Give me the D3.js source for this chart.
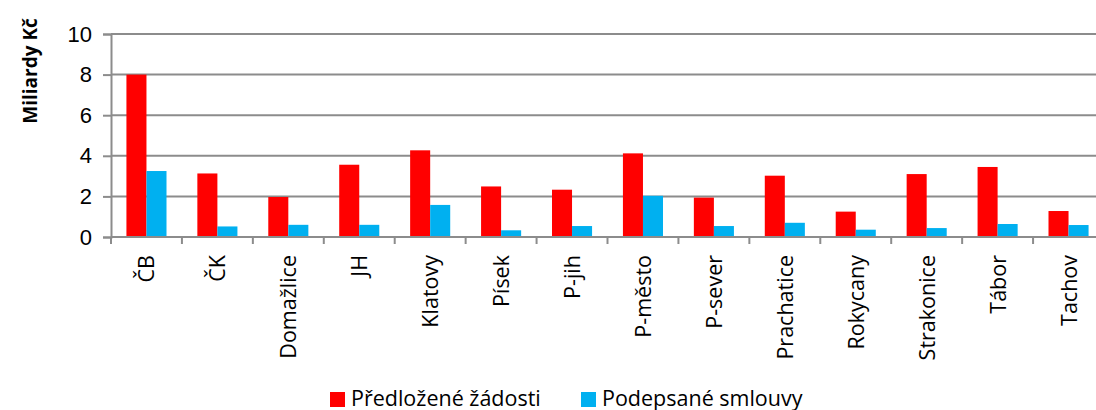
<!DOCTYPE html>
<html>
<head>
<meta charset="utf-8">
<script src="https://cdn.jsdelivr.net/npm/d3@7"></script>
<style>
  body { margin: 0; background: #fff; }
  svg { font-family: "Open Sans", sans-serif; }
</style>
</head>
<body>
<svg id="chart" width="1096" height="410"></svg>
<script>
// data (miliardy Kč)
var okresy = ["ČB", "ČK", "Domažlice", "JH", "Klatovy", "Písek", "P-jih", "P-město", "P-sever", "Prachatice", "Rokycany", "Strakonice", "Tábor", "Tachov"];
var zadosti = [8.0, 3.13, 1.97, 3.56, 4.27, 2.49, 2.33, 4.12, 1.94, 3.02, 1.25, 3.10, 3.45, 1.28];
var smlouvy = [3.25, 0.52, 0.60, 0.60, 1.58, 0.33, 0.54, 2.03, 0.54, 0.70, 0.36, 0.44, 0.64, 0.59];
var serie = ["Předložené žádosti", "Podepsané smlouvy"];
var yTicks = [0, 2, 4, 6, 8, 10];

var svg = d3.select("#chart");
var plotLeft = 111, plotRight = 1104, plotTop = 34, plotBottom = 237;

var x = d3.scaleBand().domain(okresy).range([plotLeft, plotRight]).padding(0);
var x1 = d3.scaleBand().domain(serie).range([0, x.bandwidth()]).paddingInner(0).paddingOuter(0.77);
var y = d3.scaleLinear().domain([0, 10]).range([plotBottom, plotTop]);
var color = d3.scaleOrdinal().domain(serie).range(["#ff0000", "#00b0f0"]);

// soft shadow under gridlines
var defs = svg.append("defs");
defs.append("filter").attr("id", "blur").attr("y", "-100%").attr("height", "300%")
  .append("feGaussianBlur").attr("stdDeviation", 2.5);

var grid = svg.append("g");
yTicks.filter(function(d) { return d > 0; }).forEach(function(t) {
  grid.append("line")
    .attr("x1", plotLeft).attr("x2", 1096)
    .attr("y1", y(t) + 7).attr("y2", y(t) + 7)
    .attr("stroke", "#e6e6e6").attr("stroke-width", 7)
    .attr("filter", "url(#blur)");
  grid.append("line")
    .attr("x1", plotLeft).attr("x2", 1096)
    .attr("y1", y(t)).attr("y2", y(t))
    .attr("stroke", "#8c8c8c").attr("stroke-width", 2);
});

// bars
var rows = okresy.map(function(o, i) { return { okres: o, vals: [zadosti[i], smlouvy[i]] }; });
var groups = svg.append("g").selectAll("g")
  .data(rows)
  .enter().append("g")
  .attr("transform", function(d) { return "translate(" + x(d.okres) + ",0)"; });

groups.selectAll("rect")
  .data(function(d) { return d.vals.map(function(v, j) { return { s: serie[j], v: v }; }); })
  .enter().append("rect")
  .attr("x", function(d) { return x1(d.s); })
  .attr("width", x1.bandwidth())
  .attr("y", function(d) { return y(d.v); })
  .attr("height", function(d) { return plotBottom - y(d.v); })
  .style("fill", function(d) { return color(d.s); });

// y axis
var yAxis = svg.append("g")
  .attr("transform", "translate(" + plotLeft + ",0)")
  .call(d3.axisLeft(y).tickValues(yTicks).tickSize(8).tickPadding(11));
yAxis.select(".domain").attr("stroke", "#8c8c8c").attr("stroke-width", 2);
yAxis.selectAll(".tick line").attr("stroke", "#8c8c8c").attr("stroke-width", 2);
yAxis.selectAll("text").style("font-size", "22px").attr("fill", "#000");

// x axis
var xAxis = svg.append("g")
  .attr("transform", "translate(0," + plotBottom + ")");
xAxis.append("line")
  .attr("x1", plotLeft).attr("x2", 1096)
  .attr("stroke", "#8c8c8c").attr("stroke-width", 2);
xAxis.selectAll(".tk")
  .data(okresy)
  .enter().append("line")
  .attr("x1", function(d) { return x(d); }).attr("x2", function(d) { return x(d); })
  .attr("y1", 0).attr("y2", 7)
  .attr("stroke", "#8c8c8c").attr("stroke-width", 2);
xAxis.selectAll(".lbl")
  .data(okresy)
  .enter().append("text")
  .attr("transform", function(d) { return "translate(" + (x(d) + x.bandwidth() / 2 + 8) + ",18) rotate(-90)"; })
  .attr("text-anchor", "end")
  .style("font-size", "21.5px")
  .text(function(d) { return d; });

// y title
svg.append("text")
  .attr("transform", "translate(37,71) rotate(-90)")
  .attr("text-anchor", "middle")
  .style("font-size", "19px")
  .style("font-weight", "bold")
  .text("Miliardy Kč");

// legend
var legendX = [330, 581];
var legend = svg.append("g").selectAll("g")
  .data(serie)
  .enter().append("g")
  .attr("transform", function(d, i) { return "translate(" + legendX[i] + ",392)"; });
legend.append("rect")
  .attr("width", 15).attr("height", 15)
  .style("fill", function(d) { return color(d); });
legend.append("text")
  .attr("x", 21).attr("y", 14)
  .style("font-size", "21.5px")
  .text(function(d) { return d; });
</script>
</body>
</html>
